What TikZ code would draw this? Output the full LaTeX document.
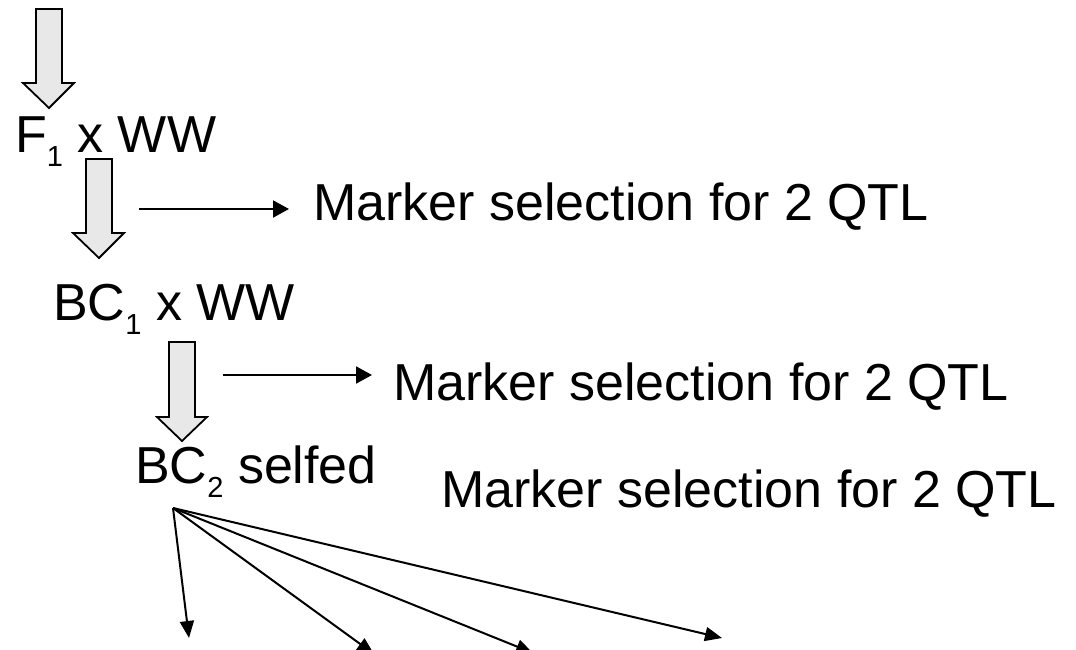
\documentclass[tikz,border=0pt]{standalone}
\usepackage{fontspec}
\setmainfont{Liberation Sans}
\usetikzlibrary{arrows.meta}
\newcommand\mysub[1]{\raisebox{-14pt}{\fontsize{29}{30}\selectfont #1}}
\begin{document}
\begin{tikzpicture}[x=1pt,y=-1pt,
  lbl/.style={anchor=base west,inner sep=0pt,font=\fontsize{52}{60}\selectfont},
  blockarrow/.style={draw=black,fill=black!9,line width=1.8pt,line join=miter},
  thinarrow/.style={line width=2pt,-{Triangle[length=16pt,width=17pt]}},
  fanarrow/.style={line width=2pt,-{Triangle[length=17pt,width=14pt]}}]
\useasboundingbox (0,0) rectangle (1076,650);
% block arrows
\draw[blockarrow] (36,9) -- (62,9) -- (62,83) -- (74,83) -- (49,108) -- (23,83) -- (36,83) -- cycle;
\draw[blockarrow] (86,159) -- (112,159) -- (112,233) -- (124,233) -- (99,258) -- (73,233) -- (86,233) -- cycle;
\draw[blockarrow] (169,342) -- (195,342) -- (195,417) -- (207,417) -- (182,441) -- (157,417) -- (169,417) -- cycle;
% labels
\node[lbl] (f1) at (15,153) {F\mysub{1} x WW};
\node[lbl] (bc1) at (53,320) {BC\mysub{1} x WW};
\node[lbl] (bc2) at (135,483) {BC\mysub{2} selfed};
\node[lbl] (m1) at (313,220) {Marker selection for 2 QTL};
\node[lbl] (m2) at (393,400) {Marker selection for 2 QTL};
\node[lbl] (m3) at (441,507) {Marker selection for 2 QTL};
% horizontal arrows
\coordinate (h1s) at (139,209);
\coordinate (h1e) at (289,209);
\coordinate (h2s) at (223,375);
\coordinate (h2e) at (372,375);
\draw[thinarrow] (h1s) -- (h1e);
\draw[thinarrow] (h2s) -- (h2e);
% fan
\coordinate (o) at (173,508);
\coordinate (t1) at (189,638);
\coordinate (t2) at (374,654);
\coordinate (t3) at (533,653);
\coordinate (t4) at (722,638);
\foreach \t in {t1,t2,t3,t4} \draw[fanarrow] (o) -- (\t);
\end{tikzpicture}
\end{document}
